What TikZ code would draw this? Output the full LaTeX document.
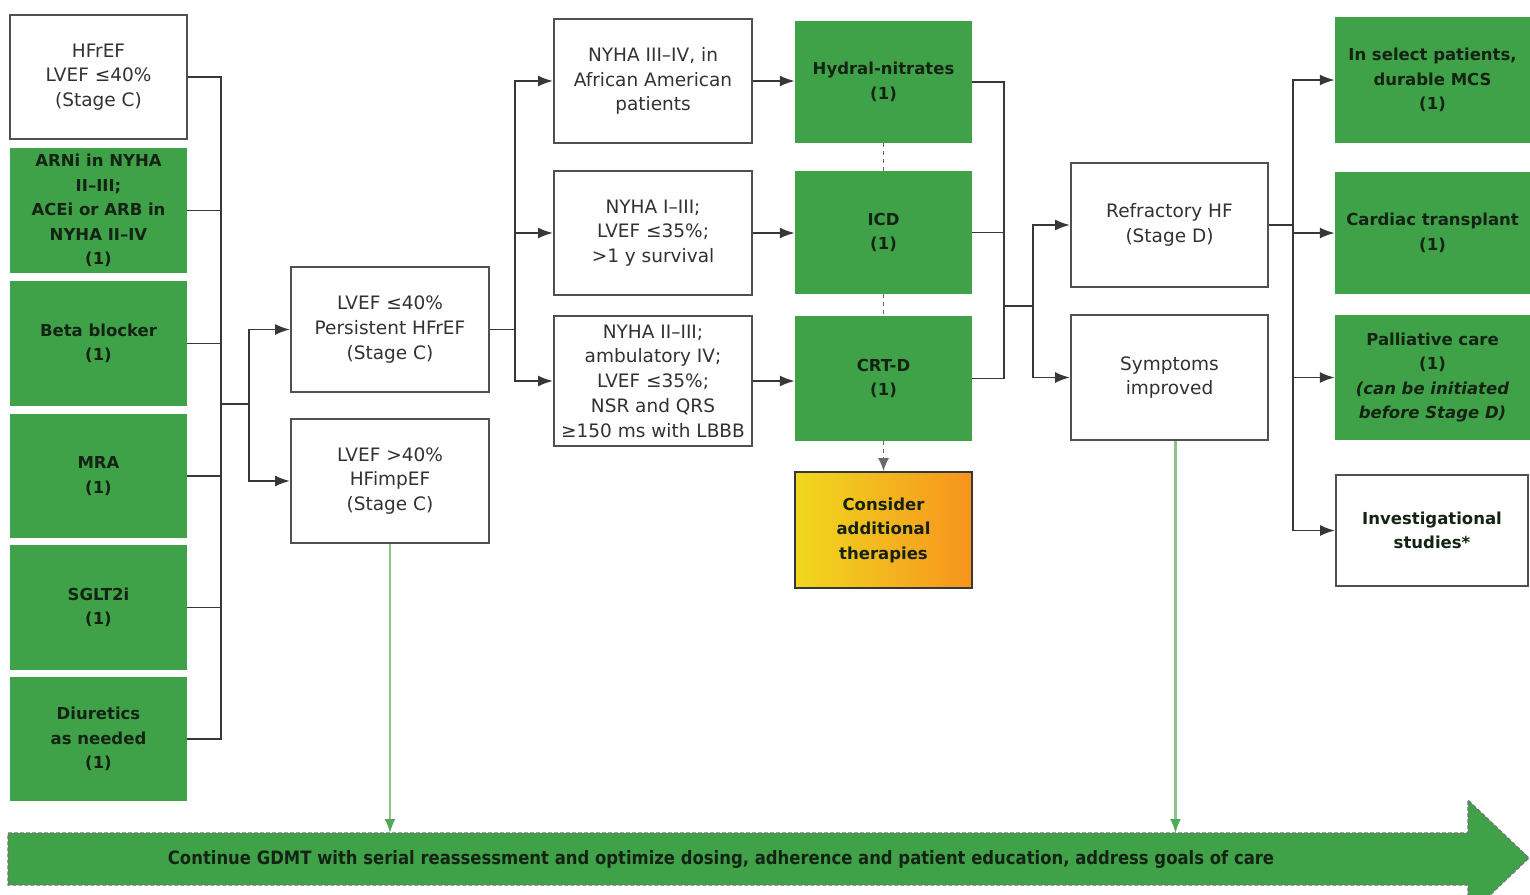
\documentclass[tikz,border=0pt]{standalone}
\usepackage{fontspec}
\setmainfont{DejaVu Sans}
\usetikzlibrary{arrows.meta,calc}
\definecolor{gr}{RGB}{64,162,72}
\definecolor{ln}{RGB}{55,55,55}
\definecolor{bd}{RGB}{80,80,80}
\definecolor{tx}{RGB}{50,50,50}
\definecolor{gtx}{RGB}{20,35,20}
\definecolor{lg}{RGB}{140,195,140}
\definecolor{garrow}{RGB}{80,170,85}
\definecolor{yel}{RGB}{240,216,30}
\definecolor{ymid}{RGB}{244,200,30}
\definecolor{org}{RGB}{247,148,30}
\tikzset{
 base/.style={rectangle, align=center, inner sep=2pt},
 wbox/.style={base, draw=bd, line width=2pt, fill=white, text=tx, font=\fontsize{18.5}{24.8}\selectfont},
 wboxb/.style={base, draw=bd, line width=2pt, fill=white, text=gtx, font=\fontsize{16.5}{24.5}\selectfont\bfseries},
 gbox/.style={base, fill=gr, text=gtx, font=\fontsize{16.5}{24.5}\selectfont\bfseries},
 conn/.style={draw=ln, line width=1.9pt},
 arr/.style={conn, -{Latex[length=15pt,width=11pt]}},
 dots/.style={draw=ln!75, line width=1.9pt, dash pattern=on 4pt off 4pt},
 garr/.style={draw=lg, line width=2.2pt, -{Latex[length=14pt,width=11pt,fill=garrow,color=garrow]}},
 col1/.style={minimum width=177pt},
 col2/.style={minimum width=198pt},
 col5/.style={minimum width=197pt},
 col6/.style={minimum width=195pt},
}
\begin{document}
\begin{tikzpicture}[x=1pt,y=-1pt]
\useasboundingbox (0,0) rectangle (1530,894);
\fill[white] (0,0) rectangle (1530,894);
\clip (0,0) rectangle (1530,894);

% left column
\node[wbox, col1, minimum height=124pt] (hfref) at (98.5,77) {HFrEF\\LVEF ≤40\%\\(Stage C)};
\node[gbox, col1, minimum height=125pt] (arni) at (98.5,210.5) {ARNi in NYHA\\II–III;\\ACEi or ARB in\\NYHA II–IV\\(1)};
\node[gbox, col1, minimum height=125pt] (beta) at (98.5,343.5) {Beta blocker\\(1)};
\node[gbox, col1, minimum height=124pt] (mra) at (98.5,476) {MRA\\(1)};
\node[gbox, col1, minimum height=125pt] (sglt) at (98.5,607.5) {SGLT2i\\(1)};
\node[gbox, col1, minimum height=124pt] (diur) at (98.5,739) {Diuretics\\as needed\\(1)};

% column 2
\node[wbox, col2, minimum height=125pt] (pers) at (390,329.5) {LVEF ≤40\%\\Persistent HFrEF\\(Stage C)};
\node[wbox, col2, minimum height=124pt] (imp) at (390,481) {LVEF >40\%\\HFimpEF\\(Stage C)};

% column 3
\node[wbox, col2, minimum height=124pt] (ny1) at (653,81) {NYHA III–IV, in\\African American\\patients};
\node[wbox, col2, minimum height=124pt] (ny2) at (653,233) {NYHA I–III;\\LVEF ≤35\%;\\>1 y survival};
\node[wbox, col2, minimum height=130pt] (ny3) at (653,381) {NYHA II–III;\\ambulatory IV;\\LVEF ≤35\%;\\NSR and QRS\\≥150 ms with LBBB};

% column 4
\node[gbox, col1, minimum height=122pt] (hyd) at (883.5,82) {Hydral-nitrates\\(1)};
\node[gbox, col1, minimum height=123pt] (icd) at (883.5,232.5) {ICD\\(1)};
\node[gbox, col1, minimum height=125pt] (crt) at (883.5,378.5) {CRT-D\\(1)};
\node[base, col1, minimum height=116pt, draw=ln, line width=1.6pt, left color=yel, middle color=ymid, right color=org, text=gtx, font=\fontsize{16.5}{24.5}\selectfont\bfseries] (cons) at (883.5,530) {Consider\\additional\\therapies};

% column 5
\node[wbox, col5, minimum height=124pt] (refr) at (1169.5,225) {Refractory HF\\(Stage D)};
\node[wbox, col5, minimum height=125pt] (symp) at (1169.5,377.5) {Symptoms\\improved};

% column 6
\node[gbox, col6, minimum height=126pt] (mcs) at (1432.5,80) {In select patients,\\durable MCS\\(1)};
\node[gbox, col6, minimum height=122pt] (tx) at (1432.5,233) {Cardiac transplant\\(1)};
\node[gbox, col6, minimum height=125pt] (pall) at (1432.5,377.5) {Palliative care\\(1)\\\textit{(can be initiated}\\\textit{before Stage D)}};
\node[wboxb, minimum width=192pt, minimum height=111pt] (inv) at (1432,530.5) {Investigational\\studies*};

% bottom band
\fill[gr] (8,833) -- (1468,833) -- (1468,800) -- (1529,858) -- (1468,916) -- (1468,885) -- (8,885) -- cycle;
\draw[draw=ln!70, line width=1.1pt, dash pattern=on 4pt off 2pt] (8,833) -- (1468,833) -- (1468,800) -- (1529,858) -- (1468,916) -- (1468,885) -- (8,885) -- cycle;
\node[inner sep=0pt, text=gtx] (band) at (721,859) {\resizebox{1106pt}{14pt}{\bfseries Continue GDMT with serial reassessment and optimize dosing, adherence and patient education, address goals of care}};
\coordinate (bandtop) at (0,833);

% left bus
\coordinate (b1) at (221,0);
\draw[conn] (hfref.east) -- (hfref.east -| b1) -- (diur.east -| b1) -- (diur.east);
\draw[conn] (arni.east) -- (arni.east -| b1);
\draw[conn] (beta.east) -- (beta.east -| b1);
\draw[conn] (mra.east) -- (mra.east -| b1);
\draw[conn] (sglt.east) -- (sglt.east -| b1);
\coordinate (j1) at (221,404);
\coordinate (s1) at (249,404);
\draw[conn] (j1) -- (s1);
\draw[arr] (s1) |- (pers.west);
\draw[arr] (s1) |- (imp.west);

% persistent to column 3
\coordinate (s2) at (515,329.5);
\draw[conn] (pers.east) -- (s2);
\draw[arr] (s2) |- (ny1.west);
\draw[arr] (s2) |- (ny2.west);
\draw[arr] (s2) |- (ny3.west);

% column 3 to column 4
\draw[arr] (ny1.east) -- (ny1.east -| hyd.west);
\draw[arr] (ny2.east) -- (ny2.east -| icd.west);
\draw[arr] (ny3.east) -- (ny3.east -| crt.west);

% dotted links
\draw[dots] (hyd.south) -- (icd.north);
\draw[dots] (icd.south) -- (crt.north);
\draw[dots, -{Latex[length=13pt,width=11pt]}] (crt.south) -- (cons.north);

% column 4 bus
\coordinate (b3) at (1004,0);
\draw[conn] (hyd.east) -- (hyd.east -| b3) -- (crt.east -| b3) -- (crt.east);
\draw[conn] (icd.east) -- (icd.east -| b3);
\coordinate (j3) at (1004,306);
\coordinate (s3) at (1033,306);
\draw[conn] (j3) -- (s3);
\draw[arr] (s3) |- (refr.west);
\draw[arr] (s3) |- (symp.west);

% refractory to column 6
\coordinate (s4) at (1293,225);
\draw[conn] (refr.east) -- (s4);
\draw[arr] (s4) |- (mcs.west);
\draw[arr] (s4) |- (tx.west);
\draw[arr] (s4) |- (pall.west);
\draw[arr] (s4) |- (inv.west);

% green arrows to band
\draw[garr] (imp.south) -- (imp.south |- bandtop);
\draw[garr] ([xshift=6pt]symp.south) -- ([xshift=6pt]symp.south |- bandtop);
\end{tikzpicture}
\end{document}
